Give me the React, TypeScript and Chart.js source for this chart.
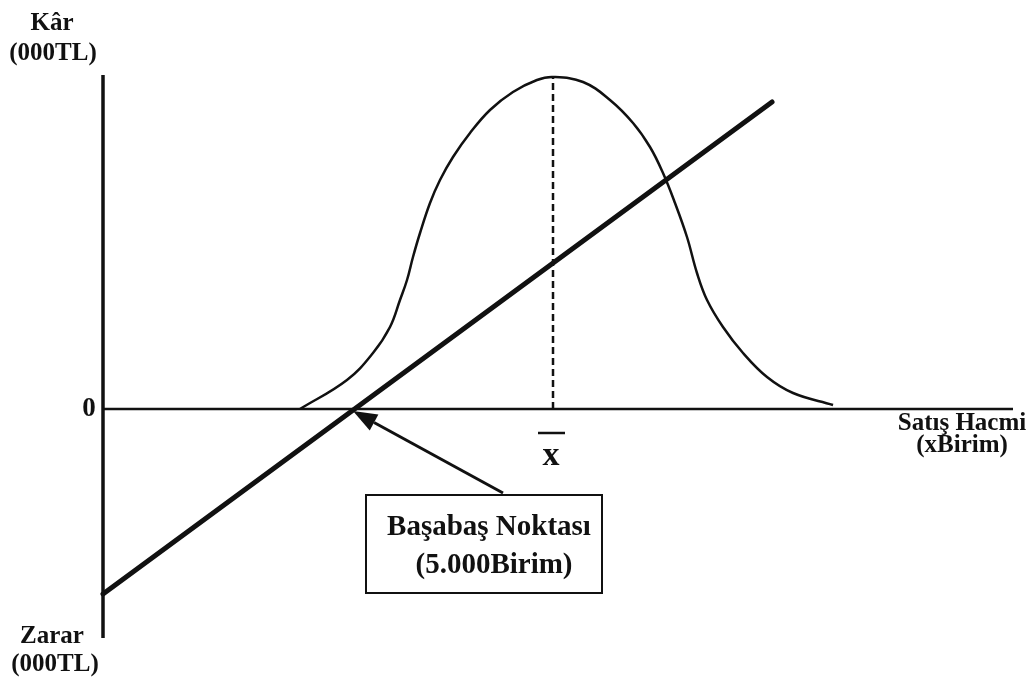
import React, { useEffect, useRef } from "react";
import { Chart, registerables } from "chart.js";

Chart.register(...registerables);

// ---- data (units: x = Satış Hacmi in units, y = Kâr/Zarar in 000TL, illustrative) ----
const xAxisRange = [0, 18127];
const yAxisRange = [-22.9, 33.4];
const breakEvenUnits = 5000;
const profitLineX = [0, 13327];
const profitLineY = [-18.5, 30.7];
const curveX = [3924, 4860, 5378, 5717, 5916, 6056, 6175, 6315, 6514, 6713, 6972, 7311, 7709, 8167, 8645, 8964, 9562, 10099, 10558, 10896, 11155, 11394, 11633, 11832, 12032, 12350, 12749, 13227, 13745, 14542];
const curveY = [0, 2.9, 5.6, 8.2, 10.9, 12.9, 15.2, 17.6, 20.6, 22.9, 25.2, 27.6, 29.9, 31.7, 32.9, 33.2, 32.7, 30.9, 28.6, 26.2, 23.6, 20.6, 17.2, 13.6, 10.9, 8.2, 5.6, 3.2, 1.6, 0.4];
const meanX = 8964;
const meanPeak = 33.2;
const yLabelTop = ["Kâr", "(000TL)"];
const yLabelBottom = ["Zarar", "(000TL)"];
const xLabel = ["Satış Hacmi", "(xBirim)"];
const boxLabel = ["Başabaş Noktası", "(5.000Birim)"];

const pts = (xs: number[], ys: number[]) => xs.map((x, i) => ({ x, y: ys[i] }));

const annotations = {
  id: "annotations",
  afterDatasetsDraw(chart: any) {
    const ctx = chart.ctx;
    const xs = chart.scales.x;
    const ys = chart.scales.y;
    const x0 = xs.getPixelForValue(0);
    const y0 = ys.getPixelForValue(0);
    ctx.save();
    ctx.fillStyle = "#111";
    ctx.strokeStyle = "#111";
    ctx.textAlign = "center";
    ctx.textBaseline = "middle";
    ctx.font = "bold 25px 'Liberation Serif'";
    ctx.fillText(yLabelTop[0], x0 - 51, 24);
    ctx.fillText(yLabelTop[1], x0 - 50, 54);
    ctx.fillText(yLabelBottom[0], x0 - 51, 637);
    ctx.fillText(yLabelBottom[1], x0 - 48, 665);
    ctx.fillText(xLabel[0], 962, y0 + 15);
    ctx.fillText(xLabel[1], 962, y0 + 37);
    ctx.font = "bold 27px 'Liberation Serif'";
    ctx.fillText("0", x0 - 14, y0);
    // x-bar
    const mx = xs.getPixelForValue(meanX);
    ctx.font = "bold 34px 'Liberation Serif'";
    ctx.fillText("x", mx - 2, y0 + 47);
    ctx.lineWidth = 2.5;
    ctx.beginPath();
    ctx.moveTo(mx - 15, y0 + 24);
    ctx.lineTo(mx + 12, y0 + 24);
    ctx.stroke();
    // box
    ctx.lineWidth = 2;
    ctx.strokeRect(366, 495, 236, 98);
    ctx.font = "bold 29px 'Liberation Serif'";
    ctx.fillText(boxLabel[0], 489, 528);
    ctx.fillText(boxLabel[1], 494, 566);
    // arrow
    const tx = xs.getPixelForValue(breakEvenUnits) - 1;
    const ty = y0 + 2;
    const sx = 503, sy = 493;
    const ang = Math.atan2(ty - sy, tx - sx);
    const hl = 24, hw = 9;
    const bx = tx - hl * Math.cos(ang), by = ty - hl * Math.sin(ang);
    ctx.lineWidth = 3;
    ctx.beginPath();
    ctx.moveTo(sx, sy);
    ctx.lineTo(bx, by);
    ctx.stroke();
    ctx.beginPath();
    ctx.moveTo(tx, ty);
    ctx.lineTo(bx + hw * Math.sin(ang), by - hw * Math.cos(ang));
    ctx.lineTo(bx - hw * Math.sin(ang), by + hw * Math.cos(ang));
    ctx.closePath();
    ctx.fill();
    ctx.restore();
  },
};

export default function App() {
  const ref = useRef<HTMLCanvasElement>(null);
  useEffect(() => {
    const chart = new Chart(ref.current as HTMLCanvasElement, {
      type: "scatter",
      data: {
        datasets: [
          {
            data: pts([0, 0], yAxisRange),
            showLine: true, borderColor: "#111", borderWidth: 3.5, pointRadius: 0, clip: false as any,
          },
          {
            data: pts(xAxisRange, [0, 0]),
            showLine: true, borderColor: "#111", borderWidth: 2.5, pointRadius: 0, clip: false as any,
          },
          {
            data: pts([meanX, meanX], [0, meanPeak]),
            showLine: true, borderColor: "#111", borderWidth: 2.5, borderDash: [7, 4], pointRadius: 0, clip: false as any,
          },
          {
            data: pts(curveX, curveY),
            showLine: true, borderColor: "#111", borderWidth: 2.5, pointRadius: 0,
            tension: 0.4, clip: false as any,
          },
          {
            data: pts(profitLineX, profitLineY),
            showLine: true, borderColor: "#111", borderWidth: 5, pointRadius: 0, clip: false as any,
            borderCapStyle: "round",
          },
        ],
      },
      options: {
        animation: false,
        responsive: false,
        layout: { padding: { left: 103, right: 17, top: 75, bottom: 41 } },
        plugins: { legend: { display: false }, tooltip: { enabled: false } },
        scales: {
          x: { type: "linear", display: false, min: xAxisRange[0], max: xAxisRange[1] },
          y: { type: "linear", display: false, min: yAxisRange[0], max: yAxisRange[1] },
        },
      },
      plugins: [annotations],
    });
    return () => chart.destroy();
  }, []);
  return (
    <div style={{ position: "fixed", left: 0, top: 0, width: 1030, height: 679, background: "#fff" }}>
      <canvas ref={ref} width={1030} height={679} style={{ width: 1030, height: 679 }} />
    </div>
  );
}
